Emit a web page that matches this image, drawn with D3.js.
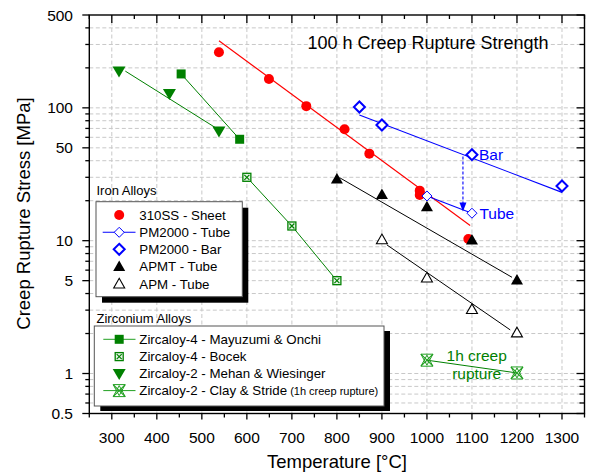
<!DOCTYPE html>
<html>
<head>
<meta charset="utf-8">
<script src="https://cdn.jsdelivr.net/npm/d3@7"></script>
<style>
  html, body { margin: 0; padding: 0; background: #fff; }
  svg { display: block; font-family: "Liberation Sans", Arial, sans-serif; }
</style>
</head>
<body>
<svg id="chart" width="592" height="475"></svg>
<script>
// ---- Data: temperature [°C] vs. creep rupture stress [MPa] ----
const ss310T = [538, 649, 732, 817, 872, 984, 984, 1092];
const ss310S = [262, 165, 103, 69, 45.2, 23.8, 22.1, 10.3];
const ss310Fit = [[538, 320], [1096, 13]];

const pm2000BarT = [850, 900, 1100, 1300];
const pm2000BarS = [101.5, 74.3, 44.4, 25.8];
const pm2000BarFit = [[850, 88.5], [1300, 23.1]];

const pm2000TubeT = [1000, 1100];
const pm2000TubeS = [21.7, 16.1];

const apmtT = [800, 900, 1000, 1100, 1200];
const apmtS = [29.1, 22.3, 18.0, 10.1, 5.06];
const apmtFit = [[806, 29.8], [1189, 5.3]];

const apmT = [900, 1000, 1100, 1200];
const apmS = [10.2, 5.26, 3.04, 2.03];
const apmFit = [[911, 9.3], [1185, 2.13]];

const zr4MayuzumiT = [454, 584];
const zr4MayuzumiS = [180, 58];

const zr4BocekT = [600, 700, 800];
const zr4BocekS = [30, 12.9, 5];

const zr2MehanT = [316, 428, 538];
const zr2MehanS = [189, 128, 67];
const zr2MehanFit = [[330, 189], [533, 70]];

const zr2ClayT = [1000, 1200];
const zr2ClayS = [1.26, 1.01];

// PM2000 bar -> tube drop at 1100 °C
const dropT = 1080;
const dropFrom = 43;
const dropTo = 16.6;

const xTickValues = [300, 400, 500, 600, 700, 800, 900, 1000, 1100, 1200, 1300];
const yTickLabels = [0.5, 1, 5, 10, 50, 100, 500];

const ironLegend = ["310SS - Sheet", "PM2000 - Tube", "PM2000 - Bar", "APMT - Tube", "APM - Tube"];
const zrLegend = ["Zircaloy-4 - Mayuzumi & Onchi", "Zircaloy-4 - Bocek", "Zircaloy-2 - Mehan & Wiesinger", "Zircaloy-2 - Clay & Stride"];

// ---- Layout ----
const RED = "#ff0000", BLUE = "#0000ff", BLACK = "#000", GREEN = "#008000", LGREEN = "#22a022";
const svg = d3.select("#chart");
const pL = 89.3, pR = 584.5, pT = 15, pB = 413.5;

const x = d3.scaleLinear().domain([250, 1350]).range([pL, pR]);
const y = d3.scaleLog().domain([0.5, 500]).range([pB, pT]);

// all log ticks between 0.5 and 500
const yAll = [];
[0.1, 1, 10, 100].forEach(d => { for (let k = 1; k <= 9; k++) { const v = +(d * k).toPrecision(3); if (v >= 0.5 && v <= 500) yAll.push(v); } });
const yMajor = new Set(yTickLabels);
const xMinor = d3.range(250, 1351, 50);

// ---- Grid ----
const grid = svg.append("g").attr("stroke", "#c8c8c8").attr("stroke-width", 1).attr("stroke-dasharray", "4,2.5");
yAll.filter(v => v > 0.5 && v < 500).forEach(v => {
  grid.append("line").attr("x1", pL).attr("x2", pR).attr("y1", y(v)).attr("y2", y(v));
});
xTickValues.forEach(t => {
  grid.append("line").attr("x1", x(t)).attr("x2", x(t)).attr("y1", pT).attr("y2", pB);
});

// ---- Marker shapes ----
function marker(g, type, cx, cy, color) {
  const s = g.append("g").attr("transform", `translate(${cx},${cy})`);
  if (type === "circle") {
    s.append("circle").attr("r", 5).attr("fill", color);
  } else if (type === "diamondBold") {
    s.append("path").attr("d", "M0,-5.5L5.5,0L0,5.5L-5.5,0Z").attr("fill", "#fff").attr("stroke", color).attr("stroke-width", 2);
  } else if (type === "diamond") {
    s.append("path").attr("d", "M0,-5L5,0L0,5L-5,0Z").attr("fill", "#fff").attr("stroke", color).attr("stroke-width", 1);
  } else if (type === "triUp") {
    s.append("path").attr("d", "M0,-6L6,4.5L-6,4.5Z").attr("fill", color);
  } else if (type === "triUpOpen") {
    s.append("path").attr("d", "M0,-5.5L5.5,4.2L-5.5,4.2Z").attr("fill", "#fff").attr("stroke", color).attr("stroke-width", 1.1);
  } else if (type === "square") {
    s.append("rect").attr("x", -4.5).attr("y", -4.5).attr("width", 9).attr("height", 9).attr("fill", color);
  } else if (type === "squareX") {
    s.append("rect").attr("x", -4).attr("y", -4).attr("width", 8).attr("height", 8).attr("fill", "#e8f4e8").attr("stroke", color).attr("stroke-width", 1.3);
    s.append("path").attr("d", "M-2.5,-2.5L2.5,2.5M2.5,-2.5L-2.5,2.5").attr("stroke", color).attr("stroke-width", 1.2);
  } else if (type === "triDown") {
    s.append("path").attr("d", "M-6.5,-4.5L6.5,-4.5L0,6.5Z").attr("fill", color);
  } else if (type === "hourglassX") {
    s.append("path").attr("d", "M-6,-6L6,-6L0,5Z M-6,6L6,6L0,-5Z").attr("fill", "none").attr("stroke", color).attr("stroke-width", 1);
    s.append("path").attr("d", "M-6,-6L6,6M6,-6L-6,6").attr("stroke", color).attr("stroke-width", 1.2);
  }
}

function fitLine(pts, color, w) {
  svg.append("line")
    .attr("x1", x(pts[0][0])).attr("y1", y(pts[0][1]))
    .attr("x2", x(pts[1][0])).attr("y2", y(pts[1][1]))
    .attr("stroke", color).attr("stroke-width", w || 1);
}
function connect(T, S, color, w) {
  svg.append("path")
    .attr("d", d3.line().x((d, i) => x(T[i])).y((d, i) => y(S[i]))(T))
    .attr("fill", "none").attr("stroke", color).attr("stroke-width", w || 1);
}
function points(T, S, type, color) {
  const g = svg.append("g");
  T.forEach((t, i) => marker(g, type, x(t), y(S[i]), color));
}

// ---- Lines ----
fitLine(ss310Fit, RED, 1.1);
fitLine(pm2000BarFit, BLUE, 1.1);
connect(pm2000TubeT, pm2000TubeS, BLUE, 1.1);
fitLine(apmtFit, BLACK, 1);
fitLine(apmFit, BLACK, 1);
connect(zr4MayuzumiT, zr4MayuzumiS, GREEN, 1);
connect(zr4BocekT, zr4BocekS, GREEN, 1);
fitLine(zr2MehanFit, GREEN, 1);
connect(zr2ClayT, zr2ClayS, GREEN, 1);

// ---- Markers ----
points(ss310T, ss310S, "circle", RED);
points(pm2000BarT, pm2000BarS, "diamondBold", BLUE);
points(pm2000TubeT, pm2000TubeS, "diamond", BLUE);
points(apmtT, apmtS, "triUp", BLACK);
points(apmT, apmS, "triUpOpen", BLACK);
points(zr4MayuzumiT, zr4MayuzumiS, "square", GREEN);
points(zr4BocekT, zr4BocekS, "squareX", GREEN);
points(zr2MehanT, zr2MehanS, "triDown", GREEN);
points(zr2ClayT, zr2ClayS, "hourglassX", LGREEN);

// ---- Bar -> Tube arrow ----
svg.append("line")
  .attr("x1", x(dropT)).attr("x2", x(dropT))
  .attr("y1", y(dropFrom)).attr("y2", y(dropTo) - 8)
  .attr("stroke", BLUE).attr("stroke-width", 1.1).attr("stroke-dasharray", "3,2");
svg.append("path")
  .attr("d", `M${x(dropT) - 3.5},${y(dropTo) - 9}L${x(dropT) + 3.5},${y(dropTo) - 9}L${x(dropT)},${y(dropTo)}Z`)
  .attr("fill", BLUE);

// ---- Annotations ----
svg.append("text").attr("x", x(1100) + 7).attr("y", y(44.4) + 5.5).attr("fill", BLUE).attr("font-size", 15.5).text("Bar");
svg.append("text").attr("x", x(1100) + 7.5).attr("y", y(16.1) + 5.5).attr("fill", BLUE).attr("font-size", 15.5).text("Tube");
svg.append("text").attr("x", 476.7).attr("y", 361).attr("text-anchor", "middle").attr("fill", GREEN).attr("font-size", 15.5).text("1h creep");
svg.append("text").attr("x", 476.7).attr("y", 378.5).attr("text-anchor", "middle").attr("fill", GREEN).attr("font-size", 15.5).text("rupture");
svg.append("text").attr("x", 428).attr("y", 48.5).attr("text-anchor", "middle").attr("fill", "#000").attr("font-size", 18).text("100 h Creep Rupture Strength");

// ---- Legends ----
function legendBox(x0, y0, w, h, dx, dy) {
  svg.append("rect").attr("x", x0 + dx).attr("y", y0 + dy).attr("width", w).attr("height", h).attr("fill", "#000");
  svg.append("rect").attr("x", x0).attr("y", y0).attr("width", w).attr("height", h).attr("fill", "#fff").attr("stroke", "#555").attr("stroke-width", 1);
}
const legFont = 13.3;
const symX = 119.2, textX = 139.3;

svg.append("text").attr("x", 96.5).attr("y", 194.5).attr("font-size", 13).text("Iron Alloys");
legendBox(96, 201.7, 146.3, 95, 6, 6);
const ironRows = [215, 232.3, 249.3, 266.6, 283.8];
const ironSym = ["circle", "diamond", "diamondBold", "triUp", "triUpOpen"];
const ironCol = [RED, BLUE, BLUE, BLACK, BLACK];
const lg1 = svg.append("g");
ironLegend.forEach((label, i) => {
  if (i === 1) lg1.append("line").attr("x1", 102.7).attr("x2", 135.5).attr("y1", ironRows[i]).attr("y2", ironRows[i]).attr("stroke", BLUE).attr("stroke-width", 1.1);
  marker(lg1, ironSym[i], symX, ironRows[i], ironCol[i]);
  lg1.append("text").attr("x", textX).attr("y", ironRows[i] + 4.8).attr("font-size", legFont).text(label);
});

svg.append("text").attr("x", 96.5).attr("y", 323).attr("font-size", 13).text("Zirconium Alloys");
legendBox(94.3, 326, 289.7, 80, 6, 5);
const zrRows = [339.3, 356.6, 373.4, 390.6];
const zrSym = ["square", "squareX", "triDown", "hourglassX"];
const zrCol = [GREEN, GREEN, GREEN, LGREEN];
const lg2 = svg.append("g");
zrLegend.forEach((label, i) => {
  if (i === 0 || i === 3) lg2.append("line").attr("x1", 103.3).attr("x2", 135.5).attr("y1", zrRows[i]).attr("y2", zrRows[i]).attr("stroke", LGREEN).attr("stroke-width", 1);
  marker(lg2, zrSym[i], symX, zrRows[i], zrCol[i]);
  const t = lg2.append("text").attr("x", textX).attr("y", zrRows[i] + 4.8).attr("font-size", legFont).text(label);
  if (i === 3) t.append("tspan").attr("font-size", 11).text(" (1h creep rupture)");
});

// ---- Axes ----
const ax = svg.append("g").attr("stroke", "#000").attr("stroke-width", 1.3);
svg.append("rect").attr("x", pL).attr("y", pT).attr("width", pR - pL).attr("height", pB - pT)
  .attr("fill", "none").attr("stroke", "#000").attr("stroke-width", 1.4);

// bottom (outward) and top (inward) ticks
xMinor.forEach(t => {
  const major = t % 100 === 0;
  ax.append("line").attr("x1", x(t)).attr("x2", x(t)).attr("y1", pB).attr("y2", pB + (major ? 6 : 4));
  ax.append("line").attr("x1", x(t)).attr("x2", x(t)).attr("y1", pT).attr("y2", pT + (major ? 8 : 4));
});
// left (outward) and right (inward) ticks
yAll.forEach(v => {
  const major = yMajor.has(v);
  ax.append("line").attr("x1", pL).attr("x2", pL - (major ? 7 : 4)).attr("y1", y(v)).attr("y2", y(v));
  ax.append("line").attr("x1", pR).attr("x2", pR - (major ? 8 : 5)).attr("y1", y(v)).attr("y2", y(v));
});

// tick labels
const xl = svg.append("g").attr("font-size", 15.5).attr("text-anchor", "middle").attr("fill", "#000");
xTickValues.forEach(t => xl.append("text").attr("x", x(t)).attr("y", 443).text(t));
const yl = svg.append("g").attr("font-size", 15.5).attr("text-anchor", "end").attr("fill", "#000");
yTickLabels.forEach(v => yl.append("text").attr("x", 73).attr("y", y(v) + 5.5).text(v));

// axis titles
svg.append("text").attr("x", 337).attr("y", 468).attr("text-anchor", "middle").attr("font-size", 18.5).text("Temperature [°C]");
svg.append("text").attr("transform", "translate(29.5,213.5) rotate(-90)").attr("text-anchor", "middle").attr("font-size", 18.5).text("Creep Rupture Stress [MPa]");
</script>
</body>
</html>
